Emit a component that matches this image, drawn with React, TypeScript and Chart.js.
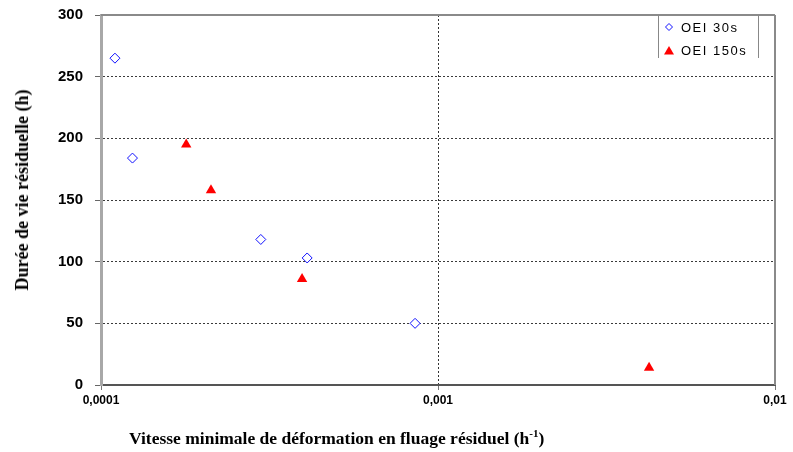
import React, { useEffect, useRef } from 'react';
import { Chart, registerables } from 'chart.js';

Chart.register(...registerables);

const series30sX = [1.1e-4, 1.24e-4, 2.98e-4, 4.09e-4, 8.55e-4];
const series30sY = [265, 184, 118, 103, 50];
const series150sX = [1.79e-4, 2.12e-4, 3.95e-4, 4.23e-3];
const series150sY = [195, 158, 86, 14];
const seriesNames = ['OEI 30s', 'OEI 150s'];
const xTickValues = [0.0001, 0.001, 0.01];
const xTickLabels = ['0,0001', '0,001', '0,01'];
const yMin = 0;
const yMax = 300;
const yStep = 50;
const xTitle = 'Vitesse minimale de déformation en fluage résiduel (h';
const yTitle = 'Durée de vie résiduelle (h)';

const frameBorder = {
  id: 'frameBorder',
  beforeDatasetsDraw(chart: any) {
    const { ctx, chartArea } = chart;
    ctx.save();
    ctx.strokeStyle = '#8a8a8a';
    ctx.lineWidth = 2;
    ctx.beginPath();
    ctx.moveTo(chartArea.left, chartArea.top);
    ctx.lineTo(chartArea.right, chartArea.top);
    ctx.stroke();
    ctx.beginPath();
    ctx.moveTo(chartArea.right, chartArea.top);
    ctx.lineTo(chartArea.right, chartArea.bottom);
    ctx.stroke();
    ctx.restore();
  },
};

export default function App() {
  const canvasRef = useRef<HTMLCanvasElement | null>(null);

  useEffect(() => {
    if (!canvasRef.current) return;
    const chart = new Chart(canvasRef.current, {
      type: 'scatter',
      data: {
        datasets: [
          {
            label: seriesNames[0],
            data: series30sX.map((x, i) => ({ x, y: series30sY[i] })),
            pointStyle: 'rectRot',
            pointRadius: 5,
            borderColor: '#1010ff',
            backgroundColor: '#ffffff',
            borderWidth: 1,
            showLine: false,
          },
          {
            label: seriesNames[1],
            data: series150sX.map((x, i) => ({ x, y: series150sY[i] })),
            pointStyle: 'triangle',
            pointRadius: 6,
            borderColor: '#ff0000',
            backgroundColor: '#ff0000',
            borderWidth: 0,
            showLine: false,
          },
        ],
      },
      options: {
        responsive: false,
        animation: false,
        events: [],
        layout: { padding: { top: 15, right: 18, left: 0, bottom: 0 } },
        plugins: {
          legend: { display: false },
          tooltip: { enabled: false },
        },
        scales: {
          x: {
            type: 'logarithmic',
            position: 'bottom',
            min: xTickValues[0],
            max: xTickValues[xTickValues.length - 1],
            afterBuildTicks: (scale: any) => {
              scale.ticks = xTickValues.map((v) => ({ value: v }));
            },
            afterFit: (scale: any) => {
              scale.height = 67;
              scale.paddingLeft = 0;
              scale.paddingRight = 0;
            },
            ticks: {
              autoSkip: false,
              maxRotation: 0,
              padding: 3,
              color: '#000',
              font: { family: 'Liberation Sans', size: 12, weight: 'bold' },
              callback: (_v: any, i: number) => xTickLabels[i],
            },
            grid: {
              color: (ctx: any) =>
                ctx.tick && ctx.tick.value === xTickValues[1] ? '#333' : 'rgba(0,0,0,0)',
              lineWidth: 1,
              tickColor: '#777',
              tickLength: 5,
              tickBorderDash: [],
            },
            border: { color: '#555', width: 2, dash: [2, 2] },
          },
          y: {
            type: 'linear',
            min: yMin,
            max: yMax,
            afterFit: (scale: any) => {
              scale.width = 101;
              scale.paddingTop = 0;
              scale.paddingBottom = 0;
            },
            ticks: {
              stepSize: yStep,
              padding: 12,
              color: '#000',
              font: { family: 'Liberation Sans', size: 15, weight: 'bold' },
            },
            grid: {
              color: (ctx: any) =>
                ctx.tick && (ctx.tick.value === yMin || ctx.tick.value === yMax)
                  ? 'rgba(0,0,0,0)'
                  : '#3a3a3a',
              lineWidth: 1,
              tickColor: '#666',
              tickLength: 6,
              tickBorderDash: [],
            },
            border: { color: '#a8a8a8', width: 3, dash: [2, 2] },
          },
        },
      },
      plugins: [frameBorder],
    } as any);
    return () => chart.destroy();
  }, []);

  return (
    <div style={{ position: 'absolute', left: 0, top: 0, width: 793, height: 452, background: '#fff' }}>
      <canvas ref={canvasRef} width={793} height={452} style={{ display: 'block', width: 793, height: 452 }} />
      <div
        style={{
          position: 'absolute',
          left: 22,
          top: 190,
          transform: 'translate(-50%, -50%) rotate(-90deg)',
          whiteSpace: 'nowrap',
          fontFamily: 'Liberation Serif',
          fontWeight: 'bold',
          fontSize: 18,
          color: '#000',
          lineHeight: '20px',
        }}
      >
        {yTitle}
      </div>
      <div
        style={{
          position: 'absolute',
          left: 129,
          top: 428,
          whiteSpace: 'nowrap',
          fontFamily: 'Liberation Serif',
          fontWeight: 'bold',
          fontSize: 17.5,
          color: '#000',
          lineHeight: '20px',
        }}
      >
        {xTitle}
        <sup style={{ fontSize: 11, lineHeight: 0 }}>-1</sup>)
      </div>
      <div
        style={{
          position: 'absolute',
          left: 658,
          top: 15,
          width: 99,
          height: 43,
          borderLeft: '1px solid #888',
          borderRight: '1px solid #888',
          fontFamily: 'Liberation Sans',
          fontSize: 13,
          letterSpacing: 1.5,
          color: '#000',
        }}
      >
        <div style={{ position: 'absolute', left: 5, top: 4, height: 16, display: 'flex', alignItems: 'center', whiteSpace: 'nowrap' }}>
          <svg width={10} height={10} style={{ marginRight: 7 }}>
            <polygon points="5,1.5 8.5,5 5,8.5 1.5,5" fill="#fff" stroke="#1010ff" strokeWidth={1} />
          </svg>
          <span>{seriesNames[0]}</span>
        </div>
        <div style={{ position: 'absolute', left: 5, top: 27, height: 16, display: 'flex', alignItems: 'center', whiteSpace: 'nowrap' }}>
          <svg width={10} height={10} style={{ marginRight: 7 }}>
            <polygon points="5,1 10,9.5 0,9.5" fill="#ff0000" />
          </svg>
          <span>{seriesNames[1]}</span>
        </div>
      </div>
    </div>
  );
}
